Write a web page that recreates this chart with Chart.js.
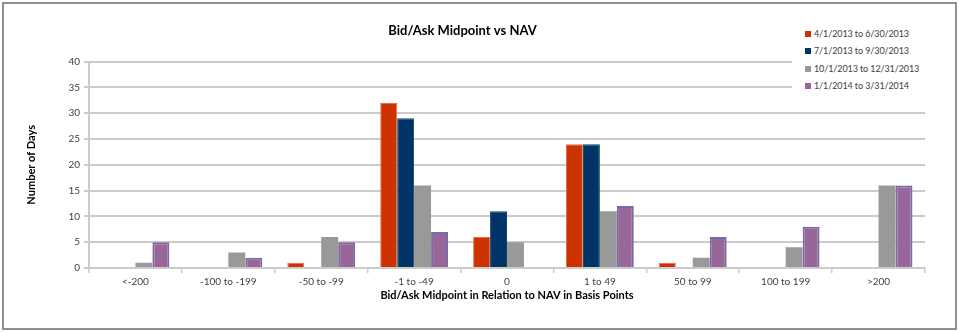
<!DOCTYPE html>
<html>
<head>
<meta charset="utf-8">
<script src="https://cdn.jsdelivr.net/npm/chart.js@4"></script>
<style>
  html, body { margin: 0; padding: 0; background: #fff; }
  #wrap { position: relative; width: 959px; height: 332px; }
  #frame {
    position: absolute; left: 2px; top: 2px; width: 951px; height: 324px;
    border: 2px solid #8f8f8f; pointer-events: none;
  }
  #legend {
    position: absolute; left: 792px; top: 22px; width: 134px; height: 78px;
    background: #fff; font-family: Lato, "Liberation Sans", sans-serif;
    font-size: 9px; letter-spacing: -0.1px; color: #404040;
  }
  #legend .item { position: absolute; left: 13px; white-space: nowrap; line-height: 12px; }
  #legend .box { display: inline-block; width: 6px; height: 6px; margin-right: 3px; vertical-align: 0px; }
</style>
</head>
<body>
<div id="wrap">
  <canvas id="chart" width="959" height="332"></canvas>
  <div id="legend"></div>
  <div id="frame"></div>
</div>
<script>
const categories = ['<-200', '-100 to -199', '-50 to -99', '-1 to -49', '0', '1 to 49', '50 to 99', '100 to 199', '>200'];

const q2_2013 = [0, 0, 1, 32, 6, 24, 1, 0, 0];
const q3_2013 = [0, 0, 0, 29, 11, 24, 0, 0, 0];
const q4_2013 = [1, 3, 6, 16, 5, 11, 2, 4, 16];
const q1_2014 = [5, 2, 5, 7, 0, 12, 6, 8, 16];

const seriesLabels = ['4/1/2013 to 6/30/2013', '7/1/2013 to 9/30/2013', '10/1/2013 to 12/31/2013', '1/1/2014 to 3/31/2014'];
const seriesColors = ['#cc3300', '#003366', '#999999', '#996699'];
const seriesBorders = ['#e07050', '#0f4a5a', '#999999', '#7a6aa6'];

const yTicks = [0, 5, 10, 15, 20, 25, 30, 35, 40];

const FONT = 'Lato, "Liberation Sans", sans-serif';
const GRID = '#cbcbcb';

const datasets = [q2_2013, q3_2013, q4_2013, q1_2014].map((values, i) => ({
  label: seriesLabels[i],
  data: values,
  backgroundColor: seriesColors[i],
  borderColor: seriesBorders[i],
  borderWidth: i === 3 ? 2 : (i === 2 ? 0 : 1),
  borderSkipped: 'start',
  categoryPercentage: 0.73,
  barPercentage: 1.0
}));

// legend drawn as html on a white box over the top-right of the plot
const legendEl = document.getElementById('legend');
seriesLabels.forEach((label, i) => {
  const item = document.createElement('div');
  item.className = 'item';
  item.style.top = (6 + i * 17.3) + 'px';
  item.innerHTML = `<span class="box" style="background:${seriesColors[i]}"></span>${label}`;
  legendEl.appendChild(item);
});

new Chart(document.getElementById('chart').getContext('2d'), {
  type: 'bar',
  data: { labels: categories, datasets: datasets },
  options: {
    responsive: false,
    animation: false,
    layout: { padding: { left: 0, right: 34, top: 0, bottom: 0 } },
    plugins: {
      legend: { display: false },
      tooltip: { enabled: false },
      title: {
        display: true,
        text: 'Bid/Ask Midpoint vs NAV',
        color: '#000',
        font: { family: FONT, size: 13, weight: 'bold' },
        padding: { top: 23, bottom: 23 }
      }
    },
    scales: {
      x: {
        afterFit: (scale) => { scale.height = 64; },
        grid: { display: true, drawOnChartArea: false, drawTicks: true, tickLength: 5, color: GRID, lineWidth: 1.5, offset: true },
        border: { color: GRID, width: 2 },
        ticks: { color: '#404040', font: { family: FONT, size: 10 }, padding: 3, maxRotation: 0, autoSkip: false },
        title: {
          display: true,
          text: 'Bid/Ask Midpoint in Relation to NAV in Basis Points',
          color: '#000',
          font: { family: FONT, size: 11, weight: 'bold' },
          padding: { top: 0, bottom: 30 }
        }
      },
      y: {
        min: 0,
        max: 40,
        afterFit: (scale) => { scale.width = 89; },
        afterBuildTicks: (scale) => { scale.ticks = yTicks.map(v => ({ value: v })); },
        grid: { color: GRID, lineWidth: 2, tickLength: 5 },
        border: { color: GRID, width: 2 },
        ticks: { color: '#404040', font: { family: FONT, size: 10 }, padding: 4 },
        title: {
          display: true,
          text: 'Number of Days',
          color: '#000',
          font: { family: FONT, size: 11, weight: 'bold' },
          padding: { top: 25, bottom: 0 }
        }
      }
    }
  }
});
</script>
</body>
</html>
